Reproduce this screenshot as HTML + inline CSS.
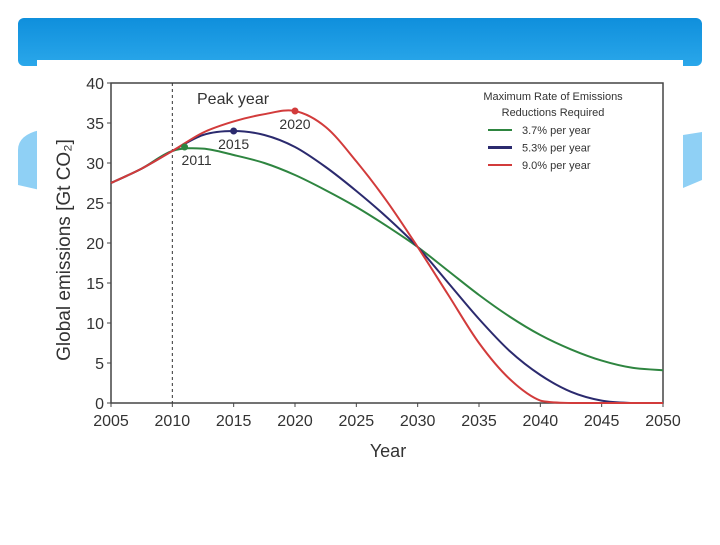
<!DOCTYPE html>
<html><head><meta charset="utf-8"><style>
body{margin:0;width:720px;height:540px;background:#fff;overflow:hidden;font-family:"Liberation Sans",sans-serif}
</style></head><body>
<svg width="720" height="540">
<defs><linearGradient id="hb" x1="0" y1="0" x2="0" y2="1"><stop offset="0" stop-color="#0f8fdc"/><stop offset="1" stop-color="#2aa7ea"/></linearGradient></defs>
<path d="M18,150 Q18,135 40,130 L40,190 L18,185Z" fill="#8fd0f5"/>
<path d="M683,135 L702,132 L702,180 L683,188Z" fill="#8fd0f5"/>
<rect x="18" y="18" width="684" height="48" rx="6" fill="url(#hb)"/>
<rect x="37" y="60" width="646" height="410" fill="#fff"/>
<g id="chart"></g>
</svg>
<script>
const years=[2005,2007.5,2010,2012.5,2015,2017.5,2020,2022.5,2025,2027.5,2030,2032.5,2035,2037.5,2040,2042.5,2045,2047.5,2050];
const greenVals=[27.5,29.3,31.5,31.8,31,30,28.5,26.6,24.5,22.1,19.5,16.5,13.5,10.8,8.5,6.7,5.3,4.4,4.1];
const blueVals=[27.5,29.3,31.5,33.5,34,33.5,32,29.5,26.5,23.2,19.5,15,10.5,6.5,3.5,1.4,0.3,0,0];
const redVals=[27.5,29.3,31.5,33.8,35.2,36.1,36.5,34.5,30.2,25.2,19.5,13.5,7.5,3,0.3,0,0,0,0];
const peakYears=[2011,2015,2020];
const peakVals=[32,34,36.5];
const xTicks=[2005,2010,2015,2020,2025,2030,2035,2040,2045,2050];
const yTicks=[0,5,10,15,20,25,30,35,40];
const legendLabels=["3.7% per year","5.3% per year","9.0% per year"];
const colors=["#2e8540","#2b2a6e","#d23b3b"];
const X=v=>111+(v-2005)*(552/45), Y=v=>403-v*8;
const g=document.getElementById('chart');const NS="http://www.w3.org/2000/svg";
function mk(t,a,txt){const e=document.createElementNS(NS,t);for(const k in a)e.setAttribute(k,a[k]);if(txt!=null)e.textContent=txt;g.appendChild(e);return e;}
let e=mk('rect',{x:111,y:83,width:552,height:320,fill:'none',stroke:'#444','stroke-width':1.5});


xTicks.forEach(t=>{mk('line',{x1:X(t),x2:X(t),y1:403,y2:407,stroke:'#444'});
 e=mk('text',{x:X(t),y:426,'text-anchor':'middle','font-size':16,fill:'#333'},t);
 
 });
yTicks.forEach(t=>{mk('line',{x1:107,x2:111,y1:Y(t),y2:Y(t),stroke:'#444'});
 e=mk('text',{x:104,y:Y(t)+6,'text-anchor':'end','font-size':16,fill:'#333'},t);
 
 });
e=mk('text',{x:388,y:457,'text-anchor':'middle','font-size':18,fill:'#333'},'Year');


e=mk('text',{x:0,y:0,'text-anchor':'middle','font-size':19,fill:'#333',transform:'translate(70,250) rotate(-90)'},'Global emissions [Gt CO₂]');


e=mk('line',{x1:X(2010),x2:X(2010),y1:83,y2:403,stroke:'#333','stroke-dasharray':'3,3'});


e=mk('text',{x:197,y:104,'font-size':16,fill:'#333'},'Peak year');


function path(vals){const p=years.map((y,i)=>[X(y),Y(vals[i])]);let d='M'+p[0];
 for(let i=0;i<p.length-1;i++){const p0=p[i-1]||p[i],p1=p[i],p2=p[i+1],p3=p[i+2]||p2;
 const c1y=Math.min(403,p1[1]+(p2[1]-p0[1])/6),c2y=Math.min(403,p2[1]-(p3[1]-p1[1])/6);
 d+=' C'+(p1[0]+(p2[0]-p0[0])/6)+','+c1y+' '+(p2[0]-(p3[0]-p1[0])/6)+','+c2y+' '+p2;}return d;}
[greenVals,blueVals,redVals].forEach((v,i)=>{e=mk('path',{d:path(v),fill:'none',stroke:colors[i],'stroke-width':2});
 
 });
peakYears.forEach((y,i)=>{e=mk('circle',{cx:X(y),cy:Y(peakVals[i]),r:3.5,fill:colors[i]});
 
 
 e=mk('text',{x:X(y)+(i==0?12:0),y:Y(peakVals[i])+18,'text-anchor':'middle','font-size':14,fill:'#333'},y);
 
 });
e=mk('text',{x:553,y:100,'text-anchor':'middle','font-size':11,fill:'#333'},'Maximum Rate of Emissions');


mk('text',{x:553,y:116,'text-anchor':'middle','font-size':11,fill:'#333'},'Reductions Required');
legendLabels.forEach((l,i)=>{const yy=134+i*17.5;
 e=mk('line',{x1:488,x2:512,y1:yy-4,y2:yy-4,stroke:colors[i],'stroke-width':i==1?3:2});
 
 
 e=mk('text',{x:522,y:yy,'font-size':11,fill:'#333'},l);
 
 });
</script>
</body></html>
